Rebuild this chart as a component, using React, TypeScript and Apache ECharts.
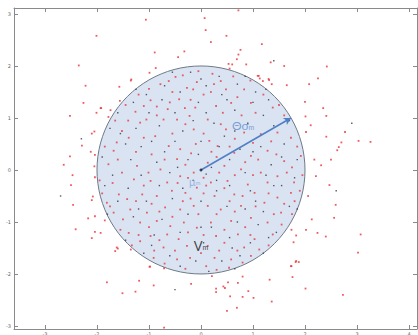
import React, { useEffect, useRef } from "react";
import * as echarts from "echarts";

const xTicks = [-3, -2, -1, 0, 1, 2, 3, 4];
const yTicks = [-3, -2, -1, 0, 1, 2, 3];

const circleData = [[0, 0, 2]];
const centerPoint = [[0, 0]];
const arrowEnd = [1.73, 1.0];

const redOutside = [
  [-1.06,2.89],[-2.01,2.58],[-0.89,2.26],[-0.32,2.28],[-0.44,2.17],[-2.35,2.01],[-0.87,1.96],[-0.99,1.87],[-1.34,1.74],[-2.22,1.62],[-1.57,1.60],[-2.26,1.29],[-1.93,1.19],[-1.56,1.33],[-2.01,1.10],[-2.52,1.04],[-1.78,1.02],[-2.05,0.74],[-2.10,0.70],[-2.29,0.47],[-2.12,0.35],[-2.52,0.26],[-2.04,0.29],[-2.64,0.10],[-2.05,0.07],
  [0.07,2.92],[0.72,3.07],[0.09,2.69],[0.49,2.58],[0.19,2.46],[1.17,2.42],[0.76,2.31],[0.72,2.22],[0.69,2.13],[1.34,2.07],[0.53,2.04],[0.87,2.03],[1.60,2.0],[2.42,1.99],[0.60,2.03],[1.11,1.81],[1.30,1.75],[1.13,1.76],[2.25,1.76],[1.36,1.65],[1.65,1.63],[2.08,1.65],[2.0,1.31],[2.35,1.19],[2.01,1.03],[2.41,1.04],[2.11,0.86],[2.77,0.73],[2.02,0.73],[2.41,0.64],[3.26,0.54],[3.03,0.56],[2.70,0.53],[2.65,0.44],[2.62,0.38],[2.18,0.20],[2.5,0.20],[2.31,0.09],
  [-2.47,-0.10],[-2.5,-0.29],[-2.04,-0.14],[-2.46,-0.67],[-2.08,-0.51],[-2.10,-0.58],[-2.17,-0.93],[-2.04,-0.89],[-2.41,-1.14],[-2.04,-1.19],[-1.93,-1.21],[-2.10,-1.31],[-1.85,-0.97],[-1.65,-1.56],[-1.60,-1.51],[-1.35,-1.53],[-0.98,-1.86],[-0.71,-1.89],[-1.81,-2.16],[-1.19,-2.13],[-0.91,-2.22],[-1.51,-2.37],[-1.26,-2.34],[-0.19,-2.19],[-0.71,-3.03],
  [2.21,-0.12],[2.47,-0.29],[2.06,-0.5],[2.59,-0.67],[2.13,-0.95],[2.56,-0.92],[2.02,-1.15],[2.24,-1.21],[2.40,-1.28],[3.07,-1.24],[1.74,-1.15],[1.83,-1.26],[1.78,-1.39],[3.02,-1.59],[1.82,-1.77],[1.88,-1.77],[1.74,-1.85],[1.76,-2.06],[1.32,-2.11],[2.01,-2.28],[2.73,-2.40],[0.21,-2.04],[0.80,-2.05],[0.52,-2.16],[0.71,-2.17],[0.29,-2.28],[0.29,-2.35],[0.43,-2.24],[0.46,-2.27],[0.91,-2.33],[0.56,-2.43],[0.80,-2.44],[1.01,-2.46],[1.36,-2.53],[0.69,-2.65],[0.50,-2.71],
  [-1.35,1.72],[-1.92,1.19],[-1.74,1.15],[1.09,1.81],[1.19,1.71],[1.31,1.73],[1.83,-1.75],[1.73,-1.85],[-1.62,-1.49],[-0.99,-1.86]
];

const redInside = [
  [-0.49,1.79],[-0.62,1.71],[-0.78,1.65],[-1.0,1.56],[-0.08,1.69],[-0.27,1.58],[-0.42,1.36],[-0.97,1.34],[-1.10,1.23],[-1.26,1.12],[-0.85,1.22],[-0.64,1.17],[-0.31,1.19],[-0.11,1.20],[-1.17,0.91],[-1.05,0.97],[-0.72,0.97],[-0.46,0.97],[-0.22,1.04],[-0.14,0.78],[-1.52,0.75],[-1.39,0.62],[-1.62,0.53],[-1.10,0.62],[-0.88,0.65],[-0.62,0.46],[-0.40,0.40],[-0.19,0.32],[-0.46,0.21],[-0.78,0.01],[-1.01,-0.05],[-1.23,0.08],[-1.52,-0.05],[-1.78,0.11],[-1.68,0.37],[-1.29,-0.18],[-0.97,-0.21],[-0.65,-0.24],[-0.40,-0.12],[-0.14,-0.05],[-0.08,-0.34],[-0.30,-0.44],[-0.56,-0.40],[-0.85,-0.50],[-1.13,-0.47],[-1.42,-0.56],[-1.58,-0.47],[-1.81,-0.63],[-1.68,-0.82],[-1.36,-0.76],[-1.04,-0.82],[-0.69,-0.72],[-0.40,-0.76],[-0.14,-0.69],[-1.17,-1.01],[-0.85,-0.98],[-0.59,-1.08],[-0.33,-1.01],[-0.08,-1.11],[-1.39,-1.21],[-0.97,-1.27],[-0.65,-1.24],[-0.43,-1.33],[-0.27,-1.46],[-0.72,-1.49],[-1.17,-1.37],[-0.91,-1.69],[-0.46,-1.72],[-0.21,-1.69],[-1.33,-1.45],
  [0.38,1.71],[0.19,1.50],[0.48,1.55],[0.83,1.55],[0.29,1.23],[0.58,1.29],[0.96,1.29],[1.38,1.20],[0.13,0.97],[0.38,0.88],[0.48,0.78],[0.83,0.72],[1.15,0.69],[1.47,0.72],[1.73,0.62],[1.92,0.27],[0.16,0.56],[0.32,0.46],[0.64,0.33],[0.96,0.27],[1.28,0.37],[1.60,0.17],[0.13,0.14],[0.45,0.08],[0.77,0.01],[1.15,-0.05],[1.47,-0.12],[1.79,-0.24],[0.19,-0.24],[0.51,-0.21],[0.90,-0.28],[1.28,-0.24],[0.26,-0.50],[0.64,-0.47],[1.03,-0.44],[1.47,-0.53],[1.73,-0.44],[0.13,-0.69],[0.38,-0.76],[0.77,-0.69],[1.22,-0.63],[1.54,-0.82],[0.19,-1.01],[0.58,-0.98],[0.96,-0.92],[1.28,-1.01],[0.29,-1.27],[0.71,-1.24],[1.03,-1.33],[1.38,-1.24],[0.13,-1.46],[0.45,-1.40],[0.83,-1.49],[1.12,-1.53],[0.26,-1.69],[0.58,-1.72],[0.96,-1.65],[0.10,-1.85],[0.54,-1.88],
  [-0.05,1.90],[0.22,1.85],[-0.35,1.82],[0.62,1.80],[0.95,1.72],[-1.20,1.45],[-0.55,1.50],[0.05,1.45],[0.70,1.40],[1.20,1.45],[-1.45,1.25],[-0.20,1.35],[0.42,1.10],[0.78,1.05],[1.05,1.10],[1.60,1.05],[-1.65,0.95],[-0.30,0.88],[0.05,0.70],[0.65,0.60],[1.00,0.52],[1.35,0.55],[-1.85,0.45],[-1.25,0.35],[-0.95,0.30],[-0.70,0.20],[-0.30,0.10],[0.30,0.25],[0.55,0.45],[0.85,0.15],[1.10,0.20],[1.45,0.30],[1.75,0.05],[-1.95,-0.20],[-1.70,-0.25],[-1.10,-0.30],[-0.45,-0.25],[-0.25,-0.15],[0.05,-0.15],[0.35,-0.05],[0.65,-0.10],[1.00,-0.10],[1.65,-0.05],[1.90,-0.40],[-1.90,-0.45],[-1.25,-0.60],[-0.95,-0.65],[-0.20,-0.55],[0.05,-0.45],[0.45,-0.35],[0.80,-0.50],[1.30,-0.45],[1.60,-0.65],[-1.50,-0.95],[-0.80,-0.80],[-0.55,-0.90],[-0.05,-0.85],[0.30,-0.85],[0.65,-0.80],[1.05,-0.70],[1.75,-0.85],[-1.55,-1.15],[-1.00,-1.10],[-0.25,-1.20],[0.05,-1.25],[0.45,-1.15],[0.85,-1.10],[1.55,-1.05],[-0.80,-1.35],[-0.50,-1.55],[0.00,-1.60],[0.35,-1.55],[0.70,-1.55],[1.30,-1.45],[-0.70,-1.80],[-0.30,-1.90],[0.30,-1.92],[0.80,-1.78],[-1.60,0.20],[-1.40,0.95],[-0.60,1.30],[0.25,1.65],[1.50,1.25],[1.85,0.45],[1.95,-0.10],[-0.10,0.50],[0.20,0.35],[-0.55,0.70],[-0.85,1.05],[0.10,-0.30],[-0.35,-0.60],[0.55,-0.60],[0.95,-1.25],[-1.20,-1.25],[-1.75,-0.70],[1.80,-0.60],[-0.15,1.55],[0.55,1.95],[-0.90,-1.55],[1.40,-0.85]
];

const darkPoints = [
  [-0.20,1.88],[0.35,1.80],[-0.70,1.62],[0.10,1.62],[0.70,1.65],[-1.05,1.45],[-0.40,1.50],[0.40,1.45],[1.05,1.50],[-1.30,1.30],[-0.75,1.35],[-0.05,1.30],[0.50,1.35],[1.30,1.35],[-1.60,1.10],[-1.00,1.10],[-0.50,1.10],[0.10,1.10],[0.65,1.15],[1.20,1.05],[1.70,0.95],[-1.75,0.80],[-1.25,0.80],[-0.80,0.85],[-0.35,0.75],[0.25,0.90],[0.90,0.90],[1.40,0.85],[-1.45,0.50],[-0.95,0.55],[-0.50,0.55],[0.00,0.55],[0.45,0.65],[0.75,0.40],[1.15,0.45],[1.60,0.50],[-1.90,0.25],[-1.35,0.20],[-0.85,0.15],[-0.25,0.20],[0.20,0.05],[0.55,0.20],[1.00,0.35],[1.35,0.10],[1.85,0.20],[-1.70,-0.10],[-1.15,-0.10],[-0.60,-0.05],[0.10,-0.08],[0.55,-0.30],[0.85,-0.05],[1.25,-0.10],[1.55,-0.30],[-1.85,-0.30],[-1.40,-0.35],[-0.80,-0.30],[-0.35,-0.35],[0.30,-0.40],[0.95,-0.40],[1.40,-0.30],[1.80,-0.15],[-1.60,-0.60],[-1.05,-0.60],[-0.55,-0.55],[0.00,-0.60],[0.50,-0.70],[0.85,-0.75],[1.20,-0.80],[1.70,-0.70],[-1.30,-0.90],[-0.75,-0.95],[-0.25,-0.85],[0.20,-1.10],[0.70,-1.00],[1.10,-1.05],[1.45,-1.20],[-1.45,-1.35],[-0.95,-1.45],[-0.40,-1.20],[0.05,-1.40],[0.55,-1.30],[0.95,-1.40],[-1.10,-1.60],[-0.60,-1.65],[-0.10,-1.75],[0.40,-1.75],[0.75,-1.65],[1.20,-1.60],[-0.40,-1.85],[0.15,-1.95],[0.65,-1.90],[-1.15,0.45],[-0.70,0.35],[0.35,0.45],[0.65,0.75],[-0.15,-0.20],[0.30,-0.20],[-0.45,0.05],[-1.55,0.70],[1.55,0.25],[-1.80,-0.85],[1.85,-0.75],[-1.25,1.55],[1.25,1.55],[-0.55,1.88],[0.85,1.80],[0.00,1.75],[-0.90,-1.25],[1.30,-1.30],[0.00,-1.10],[-0.15,0.95],[0.60,-1.50],[-0.05,0.30],[1.00,1.30],[-1.20,-0.75],[1.05,-0.60],
  [-2.30,0.60],[2.60,-0.40],[-0.50,-2.30],[1.40,2.10],[-2.70,-0.50],[2.90,0.90]
];

const labelTexts = ["theta", "mu", "v"];
const labelAnchors = [[0.81, 0.83], [-0.12, -0.25], [0.0, -1.48]];

export default function App() {
  const ref = useRef<HTMLDivElement>(null);
  useEffect(() => {
    if (!ref.current) return;
    const chart = echarts.init(ref.current, null, { renderer: "svg" });
    const axisLine = { show: true, onZero: false, lineStyle: { color: "#8a8a8a", width: 1 } };
    const tickStyle = { show: true, inside: true, length: 4, lineStyle: { color: "#8a8a8a" } };
    const labelFont = { fontSize: 5, color: "#666", fontFamily: "DejaVu Sans" };
    const richFor: Record<string, string> = {
      theta: "{a|Θσ}{b|m}",
      mu: "{c|μ}{d|m}",
      v: "{e|V}{f|m}",
    };
    chart.setOption({
      animation: false,
      grid: { left: 14, right: 1, top: 8, bottom: 6, containLabel: false, outerBoundsMode: "none" },
      xAxis: [
        {
          type: "value", min: -3.596, max: 4.154, position: "bottom",
          axisLine, axisTick: { ...tickStyle, customValues: xTicks },
          axisLabel: { ...labelFont, margin: 2, customValues: xTicks },
          splitLine: { show: false },
        },
        {
          type: "value", min: -3.596, max: 4.154, position: "top",
          axisLine, axisTick: { ...tickStyle, customValues: xTicks },
          axisLabel: { show: false }, splitLine: { show: false },
        },
      ],
      yAxis: [
        {
          type: "value", min: -3.058, max: 3.115, position: "left",
          axisLine, axisTick: { ...tickStyle, customValues: yTicks },
          axisLabel: { ...labelFont, margin: 3, customValues: yTicks },
          splitLine: { show: false },
        },
        {
          type: "value", min: -3.058, max: 3.115, position: "right",
          axisLine, axisTick: { ...tickStyle, customValues: yTicks },
          axisLabel: { show: false }, splitLine: { show: false },
        },
      ],
      series: [
        {
          type: "custom",
          z: 1,
          data: circleData,
          renderItem: (params: any, api: any) => {
            const c = api.coord([api.value(0), api.value(1)]);
            const r = api.size([api.value(2), 0])[0];
            return {
              type: "circle",
              shape: { cx: c[0], cy: c[1], r },
              style: { fill: "#dae3f2", stroke: "#6e7a88", lineWidth: 1 },
            };
          },
        },
        {
          type: "scatter", z: 3, data: redOutside, symbol: "rect", symbolSize: 1.8,
          itemStyle: { color: "#e8323a" }, silent: true,
        },
        {
          type: "scatter", z: 3, data: redInside, symbol: "rect", symbolSize: 1.8,
          itemStyle: { color: "#e33a44" }, silent: true,
        },
        {
          type: "scatter", z: 3, data: darkPoints, symbol: "rect", symbolSize: 1.4,
          itemStyle: { color: "#2e2e3c" }, silent: true,
        },
        {
          type: "scatter", z: 5, data: centerPoint, symbol: "circle", symbolSize: 3,
          itemStyle: { color: "#1a1a2a" },
          markLine: {
            silent: true,
            symbol: ["none", "arrow"],
            symbolSize: [6, 7],
            label: { show: false },
            lineStyle: { color: "#4f7fc6", width: 1.5, type: "solid" },
            data: [[{ coord: centerPoint[0] }, { coord: arrowEnd }]],
          },
        },
        {
          type: "scatter", z: 6, symbolSize: 0, silent: true,
          data: labelAnchors.map((p, i) => ({ value: p, name: labelTexts[i] })),
          label: {
            show: true,
            position: "inside",
            formatter: (p: any) => richFor[p.name],
            rich: {
              a: { fontSize: 12, color: "#5e8ccc", fontFamily: "Lato", padding: [0, 0, 2, 0] },
              b: { fontSize: 7, color: "#5e8ccc", fontFamily: "Lato" },
              c: { fontSize: 11, color: "#86a8dc", fontFamily: "Lato", padding: [0, 0, 2, 0] },
              d: { fontSize: 6, color: "#86a8dc", fontFamily: "Lato" },
              e: { fontSize: 13, color: "#111", fontFamily: "Lato", padding: [0, 0, 2, 0] },
              f: { fontSize: 7, color: "#111", fontFamily: "Lato" },
            },
          },
        },
      ],
    });
    return () => chart.dispose();
  }, []);
  return (
    <div
      ref={ref}
      style={{ position: "absolute", left: 0, top: 0, width: 418, height: 335, background: "#fff" }}
    />
  );
}
